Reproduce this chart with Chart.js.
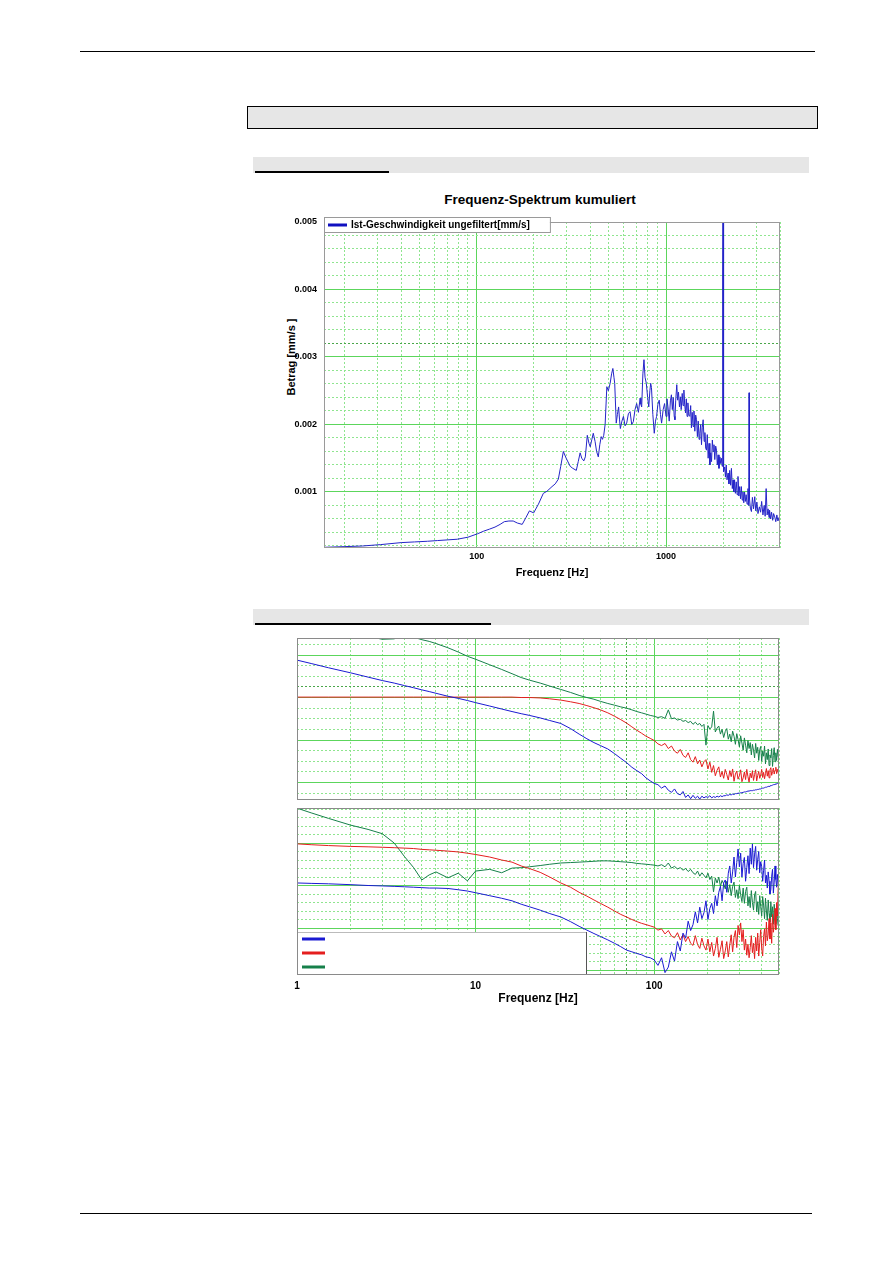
<!DOCTYPE html>
<html><head><meta charset="utf-8">
<script src="https://cdn.jsdelivr.net/npm/chart.js@4.4.0/dist/chart.umd.min.js"></script>
<style>
html,body{margin:0;padding:0;background:#fff;}
body{width:893px;height:1263px;position:relative;overflow:hidden;font-family:"Liberation Sans",Arial,Helvetica,sans-serif;}
.abs{position:absolute;}
canvas{position:absolute;}
</style></head><body>
<div class="abs" style="left:80px;top:51px;width:735px;height:1px;background:#000"></div>
<div class="abs" style="left:247px;top:106px;width:569px;height:21px;background:#e6e6e6;border:1px solid #000"></div>
<div class="abs" style="left:253px;top:157px;width:556px;height:16px;background:#e6e6e6"></div>
<div class="abs" style="left:255px;top:171px;width:134px;height:2px;background:#000"></div>
<div class="abs" style="left:253px;top:609px;width:556px;height:16px;background:#e6e6e6"></div>
<div class="abs" style="left:255px;top:623px;width:236px;height:2px;background:#000"></div>
<div class="abs" style="left:80px;top:1213px;width:732px;height:1px;background:#000"></div>
<div class="abs" style="left:390px;top:191px;width:300px;height:18px;line-height:18px;text-align:center;font-weight:bold;font-size:13.5px;color:#000">Frequenz-Spektrum kumuliert</div>
<div class="abs" style="left:241px;top:350px;width:100px;height:14px;line-height:14px;text-align:center;font-weight:bold;font-size:11px;color:#000;transform:rotate(-90deg);transform-origin:50% 50%">Betrag [mm/s ]</div>
<canvas id="c1" width="550" height="420" style="left:250px;top:180px"></canvas>
<canvas id="c2" width="540" height="172" style="left:257px;top:630px"></canvas>
<canvas id="c3" width="540" height="205" style="left:257px;top:805px"></canvas>
<script>
// ---------- Chart 1: Frequenz-Spektrum kumuliert ----------
const F1 = [
15.625,20,25,31,40,47,55,62,70,79,
90,101,109,117,125,133,140,148,156,164,
174,182,190,200,212,225,235,250,260,270,
278,287,297,312,322,336,344,352,359,368,
375,384,392,398,406,413,422,430,439,447,
455,462,469,477,487,496,507,516,524,531,
536,546,554,562,568,574,585,596,608,620,
633,646,659,672,686,700,715,730,737,744,
755,765,775,787,800,811,822,830,838,852,
867,880,892,906,921,935,948,966,983,1000,
1012,1024,1040,1055,1068,1080,1092,1105,1115,1125,
1140,1152,1164,1178,1191,1203,1218,1230,1243,1255,
1268,1280,1292,1305,1320,1336,1350,1362,1375,1390,
1405,1420,1435,1450,1465,1480,1495,1509,1525,1540,
1555,1571,1590,1605,1620,1636,1652,1670,1688,1705,
1722,1740,1757,1775,1792,1810,1830,1848,1866,1885,
1905,1925,1945,1960,1980,1992,2000,2008,2020,2043,
2060,2080,2100,2127,2150,2170,2195,2216,2240,2260,
2280,2302,2325,2350,2375,2400,2425,2450,2475,2500,
2525,2550,2575,2600,2625,2650,2680,2710,2735,2745,
2760,2790,2826,2860,2900,2943,2980,3020,3060,3113,
3160,3200,3250,3300,3340,3380,3420,3460,3500,3523,
3570,3610,3660,3700,3752,3800,3850,3900,3950,4000];
const V1 = [
0.00018,0.00019,0.00020,0.00022,0.00025,0.00026,0.00027,0.00028,0.00029,0.00030,
0.00033,0.00038,0.00042,0.00045,0.00048,0.00052,0.00056,0.00057,0.00057,0.00054,
0.00052,0.00062,0.00072,0.00069,0.00082,0.00098,0.00101,0.00108,0.00112,0.00119,
0.00138,0.00160,0.00150,0.00138,0.00135,0.00132,0.00145,0.00158,0.00150,0.00146,
0.00152,0.00184,0.00172,0.00167,0.00178,0.00187,0.00175,0.00160,0.00152,0.00170,
0.00182,0.00178,0.00184,0.00200,0.00256,0.00250,0.00261,0.00275,0.00283,0.00270,
0.00261,0.00202,0.00215,0.00226,0.00208,0.00194,0.00205,0.00212,0.00198,0.00202,
0.00216,0.00219,0.00200,0.00204,0.00222,0.00231,0.00218,0.00239,0.00230,0.00226,
0.00275,0.00296,0.00270,0.00261,0.00240,0.00226,0.00250,0.00261,0.00255,0.00215,
0.00187,0.00205,0.00212,0.00230,0.00236,0.00215,0.00202,0.00222,0.00231,0.00212,
0.00238,0.00226,0.00205,0.00235,0.00244,0.00222,0.00240,0.00212,0.00207,0.00235,
0.00259,0.00236,0.00248,0.00226,0.00241,0.00222,0.00246,0.00228,0.00251,0.00230,
0.00217,0.00238,0.00212,0.00232,0.00214,0.00212,0.00228,0.00195,0.00218,0.00197,
0.00220,0.00190,0.00214,0.00207,0.00182,0.00205,0.00178,0.00187,0.00200,0.00170,
0.00196,0.00207,0.00175,0.00188,0.00165,0.00162,0.00185,0.00150,0.00172,0.00140,
0.00158,0.00145,0.00177,0.00160,0.00170,0.00148,0.00168,0.00162,0.00140,0.00155,
0.00135,0.00152,0.00142,0.00150,0.00138,0.00420,0.00560,0.00160,0.00130,0.00137,
0.00122,0.00140,0.00118,0.00128,0.00112,0.00132,0.00110,0.00135,0.00105,0.00118,
0.00100,0.00118,0.00098,0.00115,0.00096,0.00123,0.00094,0.00108,0.00090,0.00108,
0.00088,0.00100,0.00084,0.00100,0.00086,0.00096,0.00082,0.00105,0.00080,0.00247,
0.00090,0.00076,0.00071,0.00092,0.00075,0.00093,0.00072,0.00085,0.00068,0.00078,
0.00070,0.00086,0.00066,0.00080,0.00064,0.00105,0.00066,0.00075,0.00062,0.00073,
0.00060,0.00070,0.00058,0.00068,0.00063,0.00056,0.00066,0.00057,0.00062,0.00059];
const SERIES1_LABEL = 'Ist-Geschwindigkeit ungefiltert[mm/s]';
const X1_TICKS = [20,30,40,50,60,70,80,90,100,200,300,400,500,600,700,800,900,1000,2000,3000,4000];
const X1_MAJOR = [100,1000];
const X1_LABELS = ['100','1000'];
const Y1_TICKS = [0.0002,0.0004,0.0006,0.0008,0.001,0.0012,0.0014,0.0016,0.0018,0.002,0.0022,0.0024,0.0026,0.0028,0.003,0.0032,0.0034,0.0036,0.0038,0.004,0.0042,0.0044,0.0046,0.0048,0.005];
const Y1_MAJOR = [0.001,0.002,0.003,0.004,0.005];
const Y1_LABELS = ['0.001','0.002','0.003','0.004','0.005'];
const Y1_CURSOR = [0.0032];

// ---------- Chart 2: two panels, common frequency axis ----------
const F2 = [
1,1.2,1.5,2,2.5,3,3.5,4,4.5,5,5.5,6,7,8,9,10,12,14,16,18,20,
23,26,30,34,38,42,46,50,55,60,65,70,75,80,85,90,95,
100,105,110,115,120,125,130,135,140,145,
150,155,160,165,170,175,180,185,190,195,
200,205,210,215,220,225,230,235,240,245,
250,255,260,265,270,275,280,285,290,295,
300,305,310,315,320,325,330,335,340,345,
350,355,360,365,370,375,380,385,390,395,
400,405,410,415,420,425,430,435,440,445,
450,455,460,465,470,475,480,485,490,495,
500];
// upper panel
const TOP_BLUE = [
-11.2,-12.0,-13.0,-14.2,-15.2,-16.0,-16.6,-17.2,-17.7,-18.2,-18.6,-19.0,-19.7,-20.2,-20.7,-21.2,-22.0,-22.7,-23.3,-23.8,-24.2,
-24.8,-25.4,-26.1,-27.3,-28.6,-29.7,-30.6,-31.3,-32.1,-33.2,-34.3,-35.3,-36.4,-37.2,-37.9,-38.9,-39.6,
-40.2,-40.5,-41.3,-40.8,-41.8,-42.3,-41.5,-42.6,-42.9,-42.1,
-43.5,-42.9,-43.8,-43.0,-43.7,-43.2,-43.9,-43.2,-43.6,-43.3,
-43.5,-43.1,-43.6,-43.3,-43.5,-43.2,-43.4,-43.1,-43.3,-43.1,
-43.1,-42.9,-43.0,-42.8,-42.9,-42.7,-42.8,-42.6,-42.6,-42.5,
-42.5,-42.4,-42.4,-42.3,-42.2,-42.2,-42.1,-42.0,-42.0,-41.9,
-41.9,-41.9,-41.8,-41.8,-41.7,-41.7,-41.6,-41.6,-41.5,-41.5,
-41.4,-41.3,-41.3,-41.2,-41.1,-41.1,-41.0,-40.9,-40.9,-40.8,
-40.7,-40.7,-40.6,-40.5,-40.5,-40.4,-40.3,-40.3,-40.2,-40.2,
-40.1];
const TOP_RED = [
-19.9,-19.9,-19.9,-19.9,-19.9,-19.9,-19.9,-19.9,-19.9,-19.9,-19.9,-19.9,-19.9,-19.9,-19.9,-19.9,-19.9,-19.9,-19.9,-20.0,-20.0,
-20.1,-20.3,-20.6,-21.0,-21.4,-21.9,-22.4,-22.9,-23.6,-24.4,-25.2,-26.0,-26.9,-27.7,-28.4,-29.1,-29.6,
-30.1,-30.9,-31.3,-30.8,-32.0,-31.4,-32.6,-33.1,-32.2,-33.6,
-34.1,-33.0,-34.6,-35.2,-33.9,-35.6,-34.7,-36.3,-35.1,-34.6,
-36.8,-35.2,-37.6,-36.0,-38.4,-37.1,-36.3,-38.7,-37.4,-39.0,
-36.9,-38.1,-39.4,-37.2,-38.6,-36.8,-39.7,-38.0,-37.3,-39.2,
-38.4,-37.0,-39.8,-38.9,-37.5,-39.3,-36.9,-38.6,-39.9,-37.8,
-38.9,-37.2,-39.5,-38.1,-37.0,-39.6,-38.3,-37.4,-39.0,-38.2,
-36.9,-38.8,-37.6,-39.1,-37.9,-36.7,-38.5,-37.2,-38.9,-37.0,
-36.5,-38.3,-37.4,-36.6,-38.0,-37.1,-36.4,-37.9,-36.9,-37.6,
-37.0];
const TOP_GREEN = [
-1.0,-1.8,-2.9,-4.3,-5.6,-6.3,-6.2,-5.0,-5.8,-6.4,-6.8,-7.3,-8.3,-9.3,-10.3,-11.0,-12.3,-13.4,-14.4,-15.3,-15.9,
-16.6,-17.3,-18.1,-18.8,-19.5,-20.0,-20.4,-20.9,-21.4,-21.8,-22.2,-22.5,-22.9,-23.3,-23.6,-23.9,-24.2,
-24.4,-24.7,-24.5,-24.9,-22.9,-25.0,-24.8,-25.3,-25.1,-25.6,
-25.4,-25.9,-25.6,-26.3,-25.8,-26.4,-26.1,-26.8,-26.3,-31.2,
-26.6,-27.4,-26.9,-23.2,-28.1,-27.2,-26.7,-28.6,-27.5,-29.4,
-28.0,-27.3,-29.8,-28.6,-30.4,-27.9,-29.1,-31.0,-28.5,-29.9,
-31.6,-29.0,-30.7,-32.4,-29.5,-31.2,-33.0,-30.1,-32.0,-30.6,
-33.5,-31.0,-32.4,-34.2,-30.8,-33.1,-31.7,-34.8,-32.3,-31.5,
-35.0,-32.6,-33.8,-31.4,-35.6,-33.0,-34.6,-32.1,-36.0,-33.5,
-34.2,-32.0,-36.2,-33.6,-31.8,-35.1,-33.0,-34.8,-32.2,-33.9,
-32.4];
// lower panel
const BOT_BLUE = [
10.6,10.5,10.4,10.2,10.0,9.9,9.8,9.7,9.6,9.5,9.4,9.4,9.3,9.0,8.7,8.3,7.6,7.0,6.4,5.6,5.0,
4.2,3.4,2.6,1.5,0.4,-0.5,-1.3,-2.0,-2.8,-3.6,-4.4,-5.2,-5.6,-6.0,-6.3,-6.8,-7.0,
-7.5,-8.8,-7.0,-10.5,-9.2,-5.6,-7.8,-3.2,-5.4,-1.2,
-2.4,1.6,-0.6,0.8,3.8,1.2,4.9,2.2,3.6,6.4,
2.0,4.6,5.8,3.4,7.6,5.2,8.4,9.8,6.4,10.6,
11.3,8.4,12.9,14.6,10.6,13.2,16.7,12.0,15.4,18.6,
14.4,17.6,12.0,15.2,16.6,11.0,14.2,17.0,12.8,18.8,
15.0,19.8,14.2,17.4,19.2,13.6,16.2,18.0,13.0,15.6,
14.4,11.0,13.6,16.0,10.6,12.4,9.4,13.2,11.0,8.0,
9.0,12.2,13.8,8.2,10.8,14.6,11.4,9.6,12.6,10.0,
10.6];
const BOT_RED = [
19.8,19.6,19.4,19.2,19.1,19.0,18.9,18.8,18.7,18.5,18.4,18.3,18.1,17.9,17.6,17.3,16.7,16.0,15.5,14.6,14.0,
13.1,12.0,10.6,9.6,8.4,7.5,6.6,5.8,4.9,4.0,3.2,2.6,2.0,1.5,1.1,0.8,0.5,
0.2,-0.5,-0.2,-1.4,-0.6,-1.9,-2.3,-1.1,-2.8,-1.6,
-3.2,-2.0,-3.6,-4.1,-1.8,-3.9,-4.8,-2.4,-4.2,-5.2,
-2.6,-5.6,-3.4,-6.6,-4.8,-2.2,-6.9,-5.0,-3.0,-7.2,
-5.4,-3.2,-6.8,-4.0,-1.6,-5.6,-2.2,-0.6,-4.6,0.6,
-1.6,1.2,-3.2,-0.4,-5.2,-2.6,-6.4,-3.8,-7.0,-4.6,
-1.8,-5.8,-3.6,-7.2,-2.2,-5.4,-1.2,-6.6,-3.4,-0.4,
-4.8,-6.6,-2.0,-0.2,-4.2,1.4,-3.0,-1.4,2.2,-2.6,
1.2,-3.6,3.2,-1.0,0.6,4.6,-0.4,6.0,2.8,9.6,
14.4];
const BOT_GREEN = [
28.2,27.1,25.8,24.2,23.2,22.2,20.0,16.8,14.2,11.3,12.5,13.2,11.8,12.9,11.1,13.4,13.8,13.0,14.1,14.2,14.4,
14.7,15.0,15.3,15.4,15.5,15.6,15.7,15.8,15.8,15.7,15.6,15.5,15.4,15.2,15.1,15.0,14.9,
14.8,14.6,14.9,14.4,15.3,14.1,14.5,13.9,14.2,13.6,
14.0,13.3,13.8,13.0,12.6,13.4,12.2,13.0,12.4,11.8,
12.9,11.4,12.2,8.5,11.8,10.6,12.0,9.8,11.2,10.4,
9.2,11.0,8.4,10.2,7.6,9.8,10.8,7.2,9.0,6.9,
10.0,7.8,6.2,9.4,5.8,8.6,9.6,5.2,7.4,4.8,
8.8,6.0,4.2,7.8,8.6,3.8,6.2,3.2,7.6,5.0,
2.8,7.4,5.4,2.2,7.0,4.0,1.8,6.6,3.4,1.4,
6.2,2.6,5.0,0.9,5.6,3.0,1.0,5.0,2.2,0.6,
3.5];
const X2_TICKS = [1,2,3,4,5,6,7,8,9,10,20,30,40,50,60,70,80,90,100,200,300,400,500];
const X2_MAJOR = [1,10,100];
const X2_LABELS = ['1','10','100'];
const X2_CURSOR = [70];
const YT_TICKS = [-42.5,-40,-37.5,-35,-32.5,-30,-27.5,-25,-22.5,-20,-17.5,-15,-12.5,-10,-7.5];
const YT_MAJOR = [-40,-30,-20,-10];
const YT_CURSOR = [-17.5];
const YB_TICKS = [-10,-8,-6,-4,-2,0,2,4,6,8,10,12,14,16,18,20,22,24,26,28];
const YB_MAJOR = [-10,0,10,20];

// ---------- helpers ----------
const FONT = '"Liberation Sans", Arial, Helvetica, sans-serif';
Chart.defaults.font.family = FONT;
Chart.defaults.color = '#000';
const GRID_MAJOR = '#5cd65c', GRID_MINOR = '#8fe58f', GRID_CURSOR = '#4aa64a';
const BLUE1 = '#2424c8', BLUE = '#1a1ad2', RED = '#e41e1e', GREEN = '#16804a';

function idx(v, list){ return list.findIndex(w => Math.abs(w - v) < 1e-9); }
function gridColor(major, cursor){
  return c => { if (!c.tick) return GRID_MAJOR; const v = c.tick.value;
    if (idx(v, cursor) >= 0) return GRID_CURSOR;
    return idx(v, major) >= 0 ? GRID_MAJOR : GRID_MINOR; };
}
function gridDash(major){
  return c => { if (!c.tick) return []; return idx(c.tick.value, major) >= 0 ? [] : [2,2]; };
}
function labelFor(major, labels){
  return v => { const i = idx(v, major); return i >= 0 ? labels[i] : ''; };
}
function setTicks(list){ return s => { s.ticks = list.map(v => ({value: v})); }; }
function pts(xs, ys){ return xs.map((x, i) => ({x: x, y: ys[i]})); }

const framePlugin = (color) => ({
  id: 'frame',
  afterDatasetsDraw(chart){
    const {ctx, chartArea: a} = chart;
    ctx.save(); ctx.strokeStyle = color; ctx.lineWidth = 1;
    const l = Math.round(a.left) + 0.5, t = Math.round(a.top) + 0.5,
          r = Math.round(a.right) - 0.5, b = Math.round(a.bottom) - 0.5;
    ctx.strokeRect(l, t, r - l, b - t);
    ctx.restore();
  }
});

const legend1 = {
  id: 'legend1',
  afterDraw(chart){
    const {ctx, chartArea: a} = chart; const ds = chart.data.datasets[0];
    ctx.save();
    ctx.font = 'bold 10px ' + FONT;
    const tw = ctx.measureText(ds.label).width;
    const bx = Math.round(a.left), by = Math.round(a.top) - 5, bh = 15, bw = 27 + tw + 20;
    ctx.fillStyle = '#fff'; ctx.fillRect(bx, by, bw, bh);
    ctx.strokeStyle = '#9a9a9a'; ctx.lineWidth = 1; ctx.strokeRect(bx + 0.5, by + 0.5, bw, bh);
    ctx.strokeStyle = '#1010c0'; ctx.lineWidth = 3;
    ctx.beginPath(); ctx.moveTo(bx + 4, by + 8); ctx.lineTo(bx + 23, by + 8); ctx.stroke();
    ctx.fillStyle = '#000'; ctx.textBaseline = 'middle'; ctx.textAlign = 'left';
    ctx.fillText(ds.label, bx + 27, by + 8.5);
    ctx.restore();
  }
};

const legend3 = {
  id: 'legend3',
  afterDatasetsDraw(chart){
    const {ctx, chartArea: a} = chart;
    const bx = Math.round(a.left), bb = Math.round(a.bottom), by = bb - 43, bw = 289;
    ctx.save();
    ctx.fillStyle = '#fff'; ctx.fillRect(bx, by, bw, bb - by);
    ctx.strokeStyle = '#555'; ctx.lineWidth = 1;
    ctx.beginPath(); ctx.moveTo(bx + bw + 0.5, by); ctx.lineTo(bx + bw + 0.5, bb); ctx.stroke();
    ctx.strokeStyle = '#bbb';
    ctx.beginPath(); ctx.moveTo(bx, by + 0.5); ctx.lineTo(bx + bw, by + 0.5); ctx.stroke();
    chart.data.datasets.forEach((ds, i) => {
      ctx.strokeStyle = ds.borderColor; ctx.lineWidth = 3;
      const y = by + 7 + i * 14;
      ctx.beginPath(); ctx.moveTo(bx + 5, y); ctx.lineTo(bx + 28, y); ctx.stroke();
    });
    ctx.restore();
  }
};

const common = {
  responsive: false, animation: false, devicePixelRatio: 1,
  plugins: { legend: {display: false}, tooltip: {enabled: false}, title: {display: false} },
  elements: { point: {radius: 0}, line: {borderWidth: 1, tension: 0} }
};

// ---------- Chart 1 ----------
new Chart(document.getElementById('c1'), {
  type: 'line',
  data: { datasets: [{ label: SERIES1_LABEL, data: pts(F1, V1), borderColor: BLUE1, borderWidth: 1, clip: 0, fill: false }] },
  options: Object.assign({}, common, {
    layout: { padding: {left: 0, right: 20, top: 42, bottom: 0} },
    scales: {
      x: {
        type: 'logarithmic', min: 15.625, max: 4000,
        afterBuildTicks: setTicks(X1_TICKS),
        afterFit: s => { s.height = 52; },
        grid: { color: gridColor(X1_MAJOR, []), lineWidth: 1, drawTicks: false },
        border: { display: false, dash: gridDash(X1_MAJOR) },
        ticks: { autoSkip: false, maxRotation: 0, padding: 3, font: {size: 9, weight: 'bold'}, color: '#000', callback: labelFor(X1_MAJOR, X1_LABELS) },
        title: { display: true, text: 'Frequenz [Hz]', color: '#000', font: {size: 11, weight: 'bold'}, padding: {top: 0, bottom: 20} }
      },
      y: {
        type: 'linear', min: 0.00017, max: 0.005,
        afterBuildTicks: setTicks(Y1_TICKS),
        afterFit: s => { s.width = 74; },
        grid: { color: gridColor(Y1_MAJOR, Y1_CURSOR), lineWidth: 1, drawTicks: false },
        border: { display: false, dash: gridDash(Y1_MAJOR) },
        ticks: { autoSkip: false, padding: 7, font: {size: 9, weight: 'bold'}, color: '#000', callback: labelFor(Y1_MAJOR, Y1_LABELS) }
      }
    }
  }),
  plugins: [framePlugin('#9a9a9a'), legend1]
});

// ---------- Chart 2, upper panel ----------
new Chart(document.getElementById('c2'), {
  type: 'line',
  data: { datasets: [
    { label: 'blau', data: pts(F2, TOP_BLUE), borderColor: BLUE, clip: 0, fill: false },
    { label: 'rot', data: pts(F2, TOP_RED), borderColor: RED, clip: 0, fill: false },
    { label: 'gruen', data: pts(F2, TOP_GREEN), borderColor: GREEN, clip: 0, fill: false }
  ] },
  options: Object.assign({}, common, {
    layout: { padding: {left: 40, right: 18, top: 8, bottom: 2} },
    scales: {
      x: {
        type: 'logarithmic', min: 1, max: 500,
        afterBuildTicks: setTicks(X2_TICKS),
        afterFit: s => { s.height = 0; },
        grid: { color: gridColor(X2_MAJOR, X2_CURSOR), lineWidth: 1, drawTicks: false },
        border: { display: false, dash: gridDash(X2_MAJOR) },
        ticks: { display: false, autoSkip: false }
      },
      y: {
        type: 'linear', min: -44.1, max: -6.0,
        afterBuildTicks: setTicks(YT_TICKS),
        afterFit: s => { s.width = 0; },
        grid: { color: gridColor(YT_MAJOR, YT_CURSOR), lineWidth: 1, drawTicks: false },
        border: { display: false, dash: gridDash(YT_MAJOR) },
        ticks: { display: false, autoSkip: false }
      }
    }
  }),
  plugins: [framePlugin('#8a8a8a')]
});

// ---------- Chart 2, lower panel ----------
new Chart(document.getElementById('c3'), {
  type: 'line',
  data: { datasets: [
    { label: 'blau', data: pts(F2, BOT_BLUE), borderColor: BLUE, clip: 0, fill: false },
    { label: 'rot', data: pts(F2, BOT_RED), borderColor: RED, clip: 0, fill: false },
    { label: 'gruen', data: pts(F2, BOT_GREEN), borderColor: GREEN, clip: 0, fill: false }
  ] },
  options: Object.assign({}, common, {
    layout: { padding: {left: 40, right: 18, top: 3, bottom: 0} },
    scales: {
      x: {
        type: 'logarithmic', min: 1, max: 500,
        afterBuildTicks: setTicks(X2_TICKS),
        afterFit: s => { s.height = 35; },
        grid: { color: gridColor(X2_MAJOR, X2_CURSOR), lineWidth: 1, drawTicks: false },
        border: { display: false, dash: gridDash(X2_MAJOR) },
        ticks: { autoSkip: false, maxRotation: 0, padding: 5, font: {size: 10, weight: 'bold'}, color: '#000', callback: labelFor(X2_MAJOR, X2_LABELS) },
        title: { display: true, text: 'Frequenz [Hz]', color: '#000', font: {size: 12, weight: 'bold'}, padding: {top: 0, bottom: 4} }
      },
      y: {
        type: 'linear', min: -11.06, max: 28.24,
        afterBuildTicks: setTicks(YB_TICKS),
        afterFit: s => { s.width = 0; },
        grid: { color: gridColor(YB_MAJOR, []), lineWidth: 1, drawTicks: false },
        border: { display: false, dash: gridDash(YB_MAJOR) },
        ticks: { display: false, autoSkip: false }
      }
    }
  }),
  plugins: [legend3, framePlugin('#8a8a8a')]
});
</script>
</body></html>
